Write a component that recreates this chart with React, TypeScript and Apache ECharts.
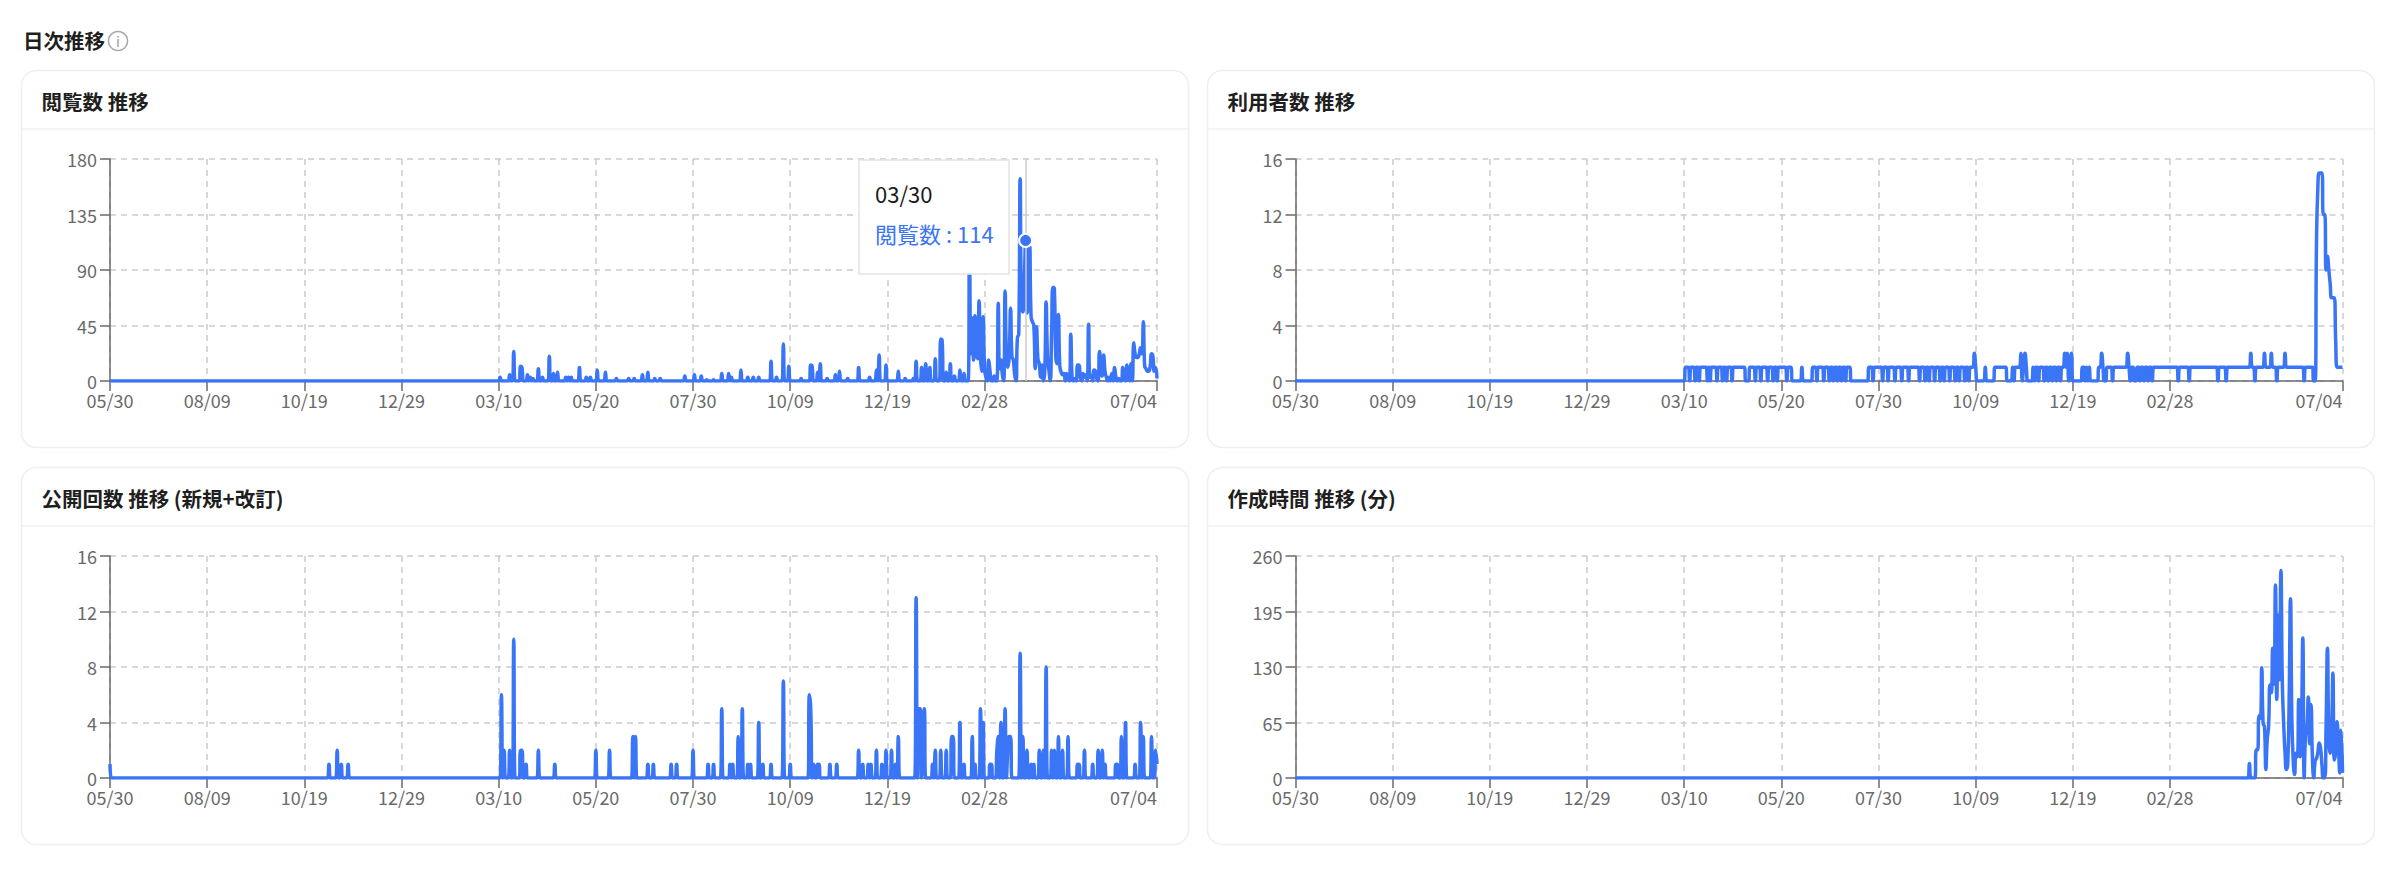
import React, { useEffect, useRef } from "react";
import * as echarts from "echarts";

const START_DAY = Date.UTC(2024, 4, 30);
const DAY_COUNT = 766;
const LAST_DAY = 765;
const LAST_REGULAR_TICK = 639;
const TICK_STEP = 71;

// [day index, value] — every day not listed sits at 0
const viewPeaks: [number, number][] = [
  [285,3],[292,5],[295,24],[300,12],[301,11],[305,5],[307,3],[309,2],[313,10],[316,3],[321,20],[324,6],[327,7],[333,3],[335,3],[337,3],
  [343,11],[348,3],[351,3],[356,9],[362,7],[370,2],[379,2],[383,2],[389,5],[393,7],[398,2],[402,2],[420,4],[427,5],[432,4],[436,1],[441,1],
  [447,6],[452,6],[454,3],[461,9],[466,3],[470,3],[474,3],[483,16],[487,3],[492,30],[496,12],[505,2],[512,13],[513,12],[517,7],[519,14],
  [524,2],[530,5],[533,8],[539,2],[547,11],[555,3],[560,9],[562,21],[567,13],[576,8],[581,2],[587,2],[589,16],[593,11],[596,14],[599,11],
  [603,18],[607,34],[608,33],[611,7],[614,14],[617,4],[621,9],[624,6],[628,110],[629,22],[630,51],[631,17],[632,53],[633,25],[634,18],[635,65],
  [636,20],[637,8],[638,52],[639,10],[640,3],[642,17],[643,8],[646,4],[649,63],[650,10],[651,17],[652,5],[654,73],[655,20],[656,11],[657,20],[658,59],
  [659,20],[660,17],[661,5],[663,35],[664,38],[665,164],[666,60],[667,56],[668,80],[669,114],[670,55],[671,60],[672,109],[673,52],[674,48],[675,45],[676,10],
  [677,44],[678,18],[679,14],[680,3],[681,13],[683,8],[684,64],[685,20],[686,9],[688,40],[689,76],[690,75],[691,20],[692,14],[693,54],[694,12],[695,7],[696,5],
  [697,6],[699,6],[700,3],[702,38],[703,2],[705,2],[707,13],[708,13],[709,3],[711,6],[712,3],[713,5],[715,46],[716,3],[717,4],[719,9],[720,8],[721,2],[723,24],[724,14],[725,4],
  [726,21],[727,8],[728,3],[730,3],[732,6],[734,11],[735,3],[737,2],[740,11],[741,3],[743,13],[744,3],[746,14],[748,31],[749,22],[750,19],[751,19],[752,22],[753,27],[754,22],
  [755,48],[756,12],[757,10],[758,8],[759,8],[760,12],[761,22],[762,20],[763,8],[764,11],[765,2],
];

// [first day, last day] at one user — every other day sits at 0
const userRuns: [number, number][] = [
  [285,287],[289,291],[293,294],[296,300],[302,302],[304,307],[309,311],[313,314],[316,318],[320,328],[332,335],[337,339],[341,344],[346,348],
  [350,351],[353,358],[360,362],[370,370],[378,380],[382,385],[387,389],[391,392],[394,395],[397,398],[400,401],[403,405],[419,421],[423,428],
  [430,432],[434,437],[439,442],[444,447],[449,455],[457,459],[461,462],[464,466],[468,470],[472,473],[475,477],[479,481],[483,484],[486,488],
  [490,491],[493,497],[504,504],[511,519],[524,524],[526,530],[532,534],[539,539],[541,542],[544,546],[548,549],[551,552],[554,555],[557,558],
  [560,564],[566,567],[575,576],[578,578],[580,580],[587,590],[593,596],[598,609],[611,612],[615,616],[618,619],[621,622],[624,625],[627,644],
  [646,652],[654,673],[675,679],[681,700],[702,716],[718,736],[738,743],[761,765],
];
// days above one user
const userPeaks: [number, number][] = [
  [496,2],[530,2],[533,2],[562,2],[564,2],[567,2],[589,2],[608,2],[698,2],[708,2],[713,2],[723,2],
  [745,0],[746,10],[747,14],[748,15],[749,15],[750,15],[751,12],[752,12],[753,8],[754,9],[755,8],[756,7],[757,6],[758,6],[759,6],[760,3],
];

const publishPeaks: [number, number][] = [
  [0,1],[160,1],[166,2],[169,1],[174,1],[286,6],[288,2],[292,2],[295,10],[300,2],[301,2],[304,1],[313,2],[325,1],[355,2],[365,2],
  [382,3],[384,3],[393,1],[397,1],[410,1],[414,1],[426,2],[437,1],[441,1],[447,5],[453,1],[455,1],[459,3],[462,5],[466,1],[468,1],[474,4],[477,1],
  [483,1],[492,7],[497,1],[511,6],[512,5],[514,1],[517,1],[518,1],[526,1],[531,1],[547,2],[550,1],[554,1],[556,1],[560,2],[564,1],[567,2],[571,2],
  [574,1],[576,3],[589,13],[591,5],[592,5],[594,3],[595,5],[601,1],[603,2],[607,2],[611,2],[615,3],[616,3],[621,4],[624,1],[630,3],[632,1],[636,5],
  [638,4],[643,1],[644,1],[648,2],[649,3],[651,4],[654,5],[656,2],[657,3],[658,3],[665,9],[667,3],[670,2],[673,1],[675,1],[679,2],[682,2],[684,8],
  [688,2],[690,2],[693,3],[696,2],[700,3],[707,1],[708,1],[712,2],[718,1],[722,2],[725,2],[727,1],[735,1],[736,1],[739,3],[742,4],[749,1],[753,4],
  [755,3],[761,3],[764,2],[765,1],
];

const authoringPeaks: [number, number][] = [
  [697,17],[702,33],[703,33],[704,73],[705,70],[706,129],[707,64],[708,60],[709,10],[710,45],[711,60],[712,109],[713,100],[714,152],[715,110],[716,226],
  [717,92],[718,191],[719,115],[720,243],[721,115],[722,64],[723,30],[724,10],[725,17],[726,90],[727,210],[728,70],[729,20],[730,4],[731,29],[732,25],[733,92],[734,25],
  [735,60],[736,164],[738,50],[739,60],[740,95],[741,40],[742,86],[743,25],[745,20],[746,23],[747,30],[748,41],[749,35],[750,15],[753,60],[754,152],[755,50],[756,29],
  [757,50],[758,123],[759,21],[760,30],[761,66],[762,40],[763,6],[764,56],[765,6],
];

const panelTitles = ["閲覧数 推移", "利用者数 推移", "公開回数 推移 (新規+改訂)", "作成時間 推移 (分)"];
const seriesNames = ["閲覧数", "利用者数", "公開回数", "作成時間"];
const yMaxima = [180, 16, 16, 260];
const yIntervals = [45, 4, 4, 65];
const highlightDay = 669;
const highlightValue = 114;
const tooltipDate = "03/30";

const BLUE = "#3975f6";
const INK = "#6a6a6a";
const FONT = "'Noto Sans CJK JP', 'Noto Sans', sans-serif";
const GRID_COLS = [110, 1295.5];
const GRID_ROWS = [159, 556];
const CARD_COLS = [21.5, 1207.5];
const CARD_ROWS = [70.5, 467.5];

const dates = Array.from({ length: DAY_COUNT }, (_, i) => {
  const d = new Date(START_DAY + i * 86400000);
  return String(d.getUTCMonth() + 1).padStart(2, "0") + "/" + String(d.getUTCDate()).padStart(2, "0");
});

function fromPeaks(peaks: [number, number][]) {
  const out = new Array(DAY_COUNT).fill(0);
  peaks.forEach(([d, v]) => { out[d] = v; });
  return out;
}
function fromRuns(runs: [number, number][], peaks: [number, number][]) {
  const out = new Array(DAY_COUNT).fill(0);
  runs.forEach(([a, b]) => { for (let i = a; i <= b; i++) out[i] = 1; });
  peaks.forEach(([d, v]) => { out[d] = v; });
  return out;
}
const seriesValues = [fromPeaks(viewPeaks), fromRuns(userRuns, userPeaks), fromPeaks(publishPeaks), fromPeaks(authoringPeaks)];

const showTick = (i: number) => (i <= LAST_REGULAR_TICK && i % TICK_STEP === 0) || i === LAST_DAY;

export default function App() {
  const ref = useRef<HTMLDivElement>(null);
  useEffect(() => {
    document.body.style.margin = "0";
    const chart = echarts.init(ref.current!, undefined, { renderer: "svg" });
    const idx = [0, 1, 2, 3];
    const cards: any[] = [];
    idx.forEach((i) => {
      const x = CARD_COLS[i % 2];
      const y = CARD_ROWS[i >> 1];
      cards.push({ type: "rect", z: -1, silent: true, shape: { x, y, width: 1167, height: 377, r: 15 }, style: { fill: "#fff", stroke: "#efefef", lineWidth: 1.5 } });
      cards.push({ type: "line", z: -1, silent: true, shape: { x1: x, y1: y + 58.5, x2: x + 1167, y2: y + 58.5 }, style: { stroke: "#f0f0f0", lineWidth: 1.5 } });
      cards.push({ type: "text", z: 5, silent: true, x: x + 20, y: y + 30, style: { text: panelTitles[i], font: `700 20.5px ${FONT}`, fill: "#1f1f1f", verticalAlign: "middle" } });
    });
    chart.setOption({
      animation: false,
      backgroundColor: "#fff",
      textStyle: { fontFamily: FONT },
      grid: idx.map((i) => ({ left: GRID_COLS[i % 2], top: GRID_ROWS[i >> 1], width: 1047, height: 222 })),
      xAxis: idx.map((i) => ({
        type: "category",
        gridIndex: i,
        data: dates,
        boundaryGap: false,
        axisLine: { lineStyle: { color: INK, width: 1.5 } },
        axisTick: { show: true, length: 10, interval: (n: number) => showTick(n), lineStyle: { color: INK, width: 1.5 } },
        axisLabel: { interval: (n: number) => showTick(n), color: INK, fontSize: 18, fontFamily: FONT, margin: 10, alignMaxLabel: "right", hideOverlap: false },
        splitLine: { show: true, interval: (n: number) => showTick(n), lineStyle: { color: "#cccccc", type: [6, 5], width: 1.5 } },
      })),
      yAxis: idx.map((i) => ({
        type: "value",
        gridIndex: i,
        min: 0,
        max: yMaxima[i],
        interval: yIntervals[i],
        axisLine: { show: true, lineStyle: { color: INK, width: 1.5 } },
        axisTick: { show: true, length: 10, lineStyle: { color: INK, width: 1.5 } },
        axisLabel: { color: INK, fontSize: 18, fontFamily: FONT, margin: 13 },
        splitLine: { show: true, lineStyle: { color: "#cccccc", type: [6, 5], width: 1.5 } },
      })),
      series: idx.map((i) => ({
        name: seriesNames[i],
        type: "line",
        xAxisIndex: i,
        yAxisIndex: i,
        data: seriesValues[i],
        smooth: true,
        showSymbol: false,
        symbol: "none",
        lineStyle: { color: BLUE, width: 3.5 },
        ...(i === 0
          ? {
              markLine: {
                silent: true,
                symbol: "none",
                label: { show: false },
                lineStyle: { color: "#cccccc", type: "solid", width: 1.5 },
                data: [{ xAxis: highlightDay }],
              },
              markPoint: {
                silent: true,
                symbol: "circle",
                symbolSize: 13,
                label: { show: false },
                itemStyle: { color: BLUE, borderColor: "#fff", borderWidth: 2 },
                data: [{ coord: [highlightDay, highlightValue] }],
              },
            }
          : {}),
      })),
      graphic: [
        { type: "text", silent: true, x: 23, y: 40, style: { text: "日次推移", font: `700 20.5px ${FONT}`, fill: "#1f1f1f", verticalAlign: "middle" } },
        { type: "circle", silent: true, shape: { cx: 118, cy: 41, r: 9.5 }, style: { fill: "none", stroke: "#ababab", lineWidth: 1.5 } },
        { type: "text", silent: true, x: 118, y: 41, style: { text: "i", font: `400 14px ${FONT}`, fill: "#9a9a9a", align: "center", verticalAlign: "middle" } },
        ...cards,
        { type: "rect", silent: true, z: 100, shape: { x: 859, y: 160, width: 150, height: 114 }, style: { fill: "#fff", stroke: "#e3e3e3", lineWidth: 1.5 } },
        { type: "text", silent: true, z: 101, x: 875, y: 193, style: { text: tooltipDate, font: `400 22px ${FONT}`, fill: "#1a1a1a", verticalAlign: "middle" } },
        { type: "text", silent: true, z: 101, x: 875, y: 233, style: { text: `${seriesNames[0]} : ${highlightValue}`, font: `400 22px ${FONT}`, fill: BLUE, verticalAlign: "middle" } },
      ],
    });
    return () => chart.dispose();
  }, []);
  return <div ref={ref} style={{ position: "absolute", left: 0, top: 0, width: 2393, height: 890 }} />;
}
